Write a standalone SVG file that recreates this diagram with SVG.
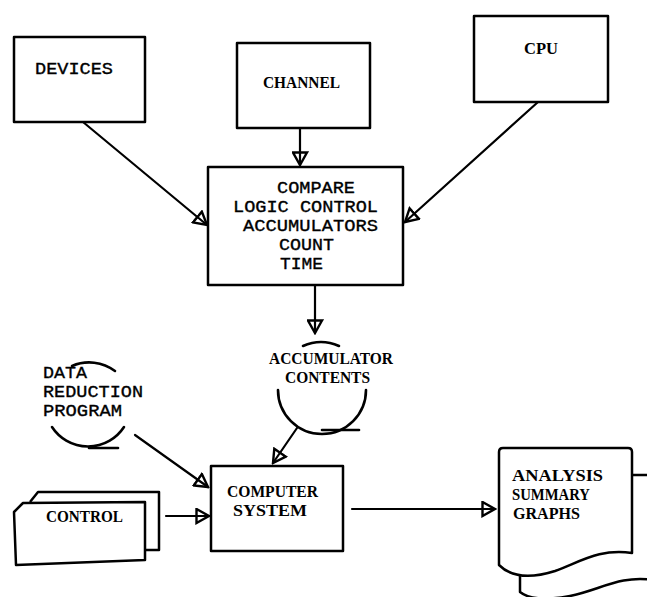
<svg xmlns="http://www.w3.org/2000/svg" width="647" height="597" viewBox="0 0 647 597">
  <style>
    .box { fill: #fff; stroke: #000; stroke-width: 2.5; stroke-linejoin: round; }
    .ln { fill: none; stroke: #000; stroke-width: 2.2; stroke-linecap: round; }
    .tape { fill: none; stroke: #000; stroke-width: 2.6; stroke-linecap: round; }
    .mono { font-family: "Liberation Mono", "DejaVu Sans Mono", monospace; font-size: 17px; fill: #000; stroke: #000; stroke-width: 0.35; }
    .serif { font-family: "Liberation Serif", "DejaVu Serif", serif; font-weight: bold; font-size: 17px; fill: #000; }
  </style>
  <defs>
    <marker id="arrow" viewBox="0 0 16 17" refX="14" refY="8.5" markerWidth="16" markerHeight="17" markerUnits="userSpaceOnUse" orient="auto">
      <path d="M1.5,1.5 L14,8.5 L1.5,15.5 Z" fill="none" stroke="#000" stroke-width="2.4" stroke-linejoin="miter"/>
    </marker>
  </defs>
  <rect width="647" height="597" fill="#fff"/>

  <!-- connectors -->
  <g id="connectors">
    <line class="ln" x1="83" y1="122" x2="207" y2="225" marker-end="url(#arrow)"/>
    <line class="ln" x1="300" y1="128" x2="300" y2="165" marker-end="url(#arrow)"/>
    <line class="ln" x1="538" y1="102" x2="405" y2="222" marker-end="url(#arrow)"/>
    <line class="ln" x1="315" y1="285" x2="315" y2="333" marker-end="url(#arrow)"/>
    <line class="ln" x1="297" y1="428" x2="273" y2="463" marker-end="url(#arrow)"/>
    <line class="ln" x1="135" y1="435" x2="208" y2="487" marker-end="url(#arrow)"/>
    <line class="ln" x1="166" y1="516" x2="209" y2="516" marker-end="url(#arrow)"/>
    <line class="ln" x1="352" y1="509" x2="495" y2="509" marker-end="url(#arrow)"/>
  </g>

  <!-- top row -->
  <g id="devices">
    <rect class="box" x="14" y="37" width="131" height="85"/>
    <text class="mono" x="35" y="74" textLength="78" lengthAdjust="spacingAndGlyphs">DEVICES</text>
  </g>
  <g id="channel">
    <rect class="box" x="237" y="43" width="133" height="85"/>
    <text class="serif" x="263" y="88" textLength="77" lengthAdjust="spacingAndGlyphs">CHANNEL</text>
  </g>
  <g id="cpu">
    <rect class="box" x="474" y="16" width="134" height="86"/>
    <text class="serif" x="524" y="54" textLength="34" lengthAdjust="spacingAndGlyphs">CPU</text>
  </g>

  <!-- monitor logic -->
  <g id="monitor">
    <rect class="box" x="208" y="167" width="195" height="118"/>
    <text class="mono" x="277" y="193" textLength="78" lengthAdjust="spacingAndGlyphs">COMPARE</text>
    <text class="mono" x="233" y="212" textLength="145" lengthAdjust="spacingAndGlyphs">LOGIC CONTROL</text>
    <text class="mono" x="243" y="231" textLength="135" lengthAdjust="spacingAndGlyphs">ACCUMULATORS</text>
    <text class="mono" x="279" y="250" textLength="55" lengthAdjust="spacingAndGlyphs">COUNT</text>
    <text class="mono" x="280" y="269" textLength="43" lengthAdjust="spacingAndGlyphs">TIME</text>
  </g>

  <!-- accumulator tape -->
  <g id="accumulator-contents">
    <path class="tape" d="M303,346 A44,44 0 0 1 339,346"/>
    <path class="tape" d="M278,390 A44,44 0 0 0 366,390"/>
    <line class="tape" x1="322" y1="430" x2="359" y2="430"/>
    <text class="serif" x="269" y="364" textLength="124" lengthAdjust="spacingAndGlyphs">ACCUMULATOR</text>
    <text class="serif" x="285" y="383" textLength="85" lengthAdjust="spacingAndGlyphs">CONTENTS</text>
  </g>

  <!-- data reduction program tape -->
  <g id="data-reduction-program">
    <path class="tape" d="M72,366 A43,43 0 0 1 115,371"/>
    <path class="tape" d="M52,427 A43,43 0 0 0 124,427"/>
    <line class="tape" x1="89" y1="448" x2="118" y2="448"/>
    <text class="mono" x="43" y="378" textLength="44" lengthAdjust="spacingAndGlyphs">DATA</text>
    <text class="mono" x="43" y="397" textLength="100" lengthAdjust="spacingAndGlyphs">REDUCTION</text>
    <text class="mono" x="43" y="416" textLength="79" lengthAdjust="spacingAndGlyphs">PROGRAM</text>
  </g>

  <!-- control cards -->
  <g id="control">
    <path class="box" d="M30,502 L38,492 L159,492 L159,550 L145,550"/>
    <path class="box" d="M14,512 L23,503 L145,502 L145,560 L16,565 Z"/>
    <text class="serif" x="46" y="522" textLength="77" lengthAdjust="spacingAndGlyphs">CONTROL</text>
  </g>

  <!-- computer system -->
  <g id="computer-system">
    <rect class="box" x="211" y="466" width="132" height="85"/>
    <text class="serif" x="227" y="497" textLength="91" lengthAdjust="spacingAndGlyphs">COMPUTER</text>
    <text class="serif" x="233" y="516" textLength="74" lengthAdjust="spacingAndGlyphs">SYSTEM</text>
  </g>

  <!-- output documents -->
  <g id="analysis-output">
    <path class="box" d="M520,479 Q520,475 524,475 L649,475 Q653,475 653,479 L653,580 C620,575 600,590 570,596 C548,600 530,600 520,592 Z"/>
    <path class="box" d="M499,452 Q499,448 503,448 L628,448 Q632,448 632,452 L632,553 C600,548 580,562 555,571 C533,578 512,578 499,565 Z"/>
    <text class="serif" x="512" y="481" textLength="91" lengthAdjust="spacingAndGlyphs">ANALYSIS</text>
    <text class="serif" x="512" y="500" textLength="78" lengthAdjust="spacingAndGlyphs">SUMMARY</text>
    <text class="serif" x="513" y="519" textLength="67" lengthAdjust="spacingAndGlyphs">GRAPHS</text>
  </g>
</svg>
